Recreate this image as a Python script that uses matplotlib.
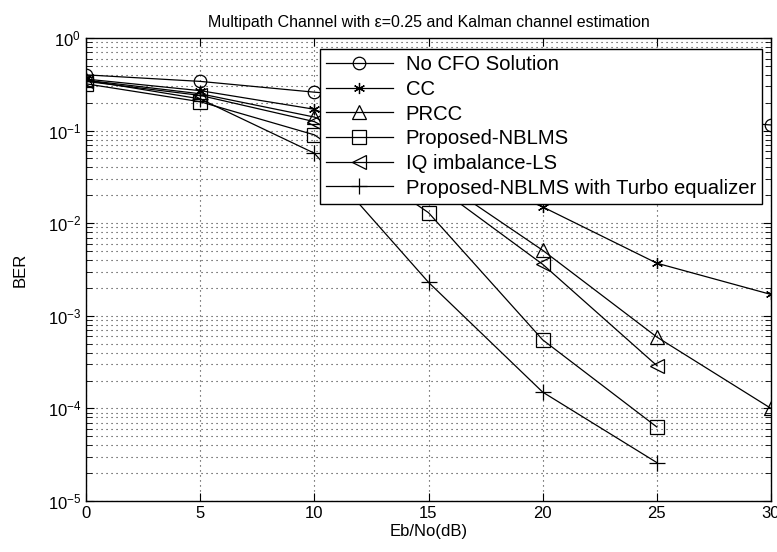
import numpy as np
import matplotlib.pyplot as plt

plt.rcParams['font.family'] = ['Liberation Sans', 'DejaVu Sans']
plt.rcParams['mathtext.fontset'] = 'custom'
plt.rcParams['mathtext.rm'] = 'Liberation Sans'

snr = [0, 5, 10, 15, 20, 25, 30]
snr_short = [0, 5, 10, 15, 20, 25]

no_cfo = [0.40, 0.34, 0.26, 0.21, 0.17, 0.14, 0.115]
cc = [0.36, 0.27, 0.17, 0.05, 0.015, 0.0037, 0.0017]
prcc = [0.35, 0.25, 0.14, 0.035, 0.0051, 0.00059, 0.0001]
nblms = [0.32, 0.205, 0.09, 0.013, 0.00055, 0.000063]
iq_ls = [0.34, 0.24, 0.125, 0.029, 0.0036, 0.00029]
turbo = [0.35, 0.22, 0.057, 0.0023, 0.00015, 0.000026]

labels = ['No CFO Solution', 'CC', 'PRCC', 'Proposed-NBLMS',
          'IQ imbalance-LS', 'Proposed-NBLMS with Turbo equalizer']

fig = plt.figure(figsize=(7.77, 5.52), dpi=100)
ax = fig.add_axes([86/777, 1 - 501/552, 685/777, 463/552])

style = dict(color='k', lw=0.9, mfc='none', mec='k', mew=0.9)
ax.semilogy(snr, no_cfo, marker='o', ms=9, label=labels[0], **style)
ax.semilogy(snr, cc, marker=(6, 2, 0), ms=8, label=labels[1], **style)
ax.semilogy(snr, prcc, marker='^', ms=10, label=labels[2], **style)
ax.semilogy(snr_short, nblms, marker='s', ms=10, label=labels[3], **style)
ax.semilogy(snr_short, iq_ls, marker='<', ms=10, label=labels[4], **style)
ax.semilogy(snr_short, turbo, marker='+', ms=12, label=labels[5], **style)

ax.set_xlim(0, 30)
ax.set_ylim(1e-5, 1)
ax.set_xticks(range(0, 31, 5))
grid_style = dict(ls=(0, (1, 3.5)), color='#333333', lw=0.8)
ax.grid(True, which='major', **grid_style)
ax.grid(True, which='minor', axis='y', **grid_style)
ax.tick_params(which='both', direction='in', top=True, right=True, labelsize=12)
ax.tick_params(which='major', length=6)
ax.tick_params(which='minor', length=4)
for s in ax.spines.values():
    s.set_linewidth(1.0)

ax.set_title('Multipath Channel with \u03b5=0.25 and Kalman channel estimation',
             fontsize=11.5, pad=8)
ax.set_xlabel('Eb/No(dB)', fontsize=12, labelpad=2)
ax.set_ylabel('BER', fontsize=12, labelpad=14)

leg = ax.legend(loc='upper right', bbox_to_anchor=(0.987, 0.976), fontsize=14.6,
                frameon=True, fancybox=False, framealpha=1, edgecolor='k',
                handlelength=3.3, labelspacing=0.28, borderaxespad=0,
                borderpad=0.3, handletextpad=0.65)
leg.get_frame().set_linewidth(1.0)

fig.savefig('out.png', dpi=100)
